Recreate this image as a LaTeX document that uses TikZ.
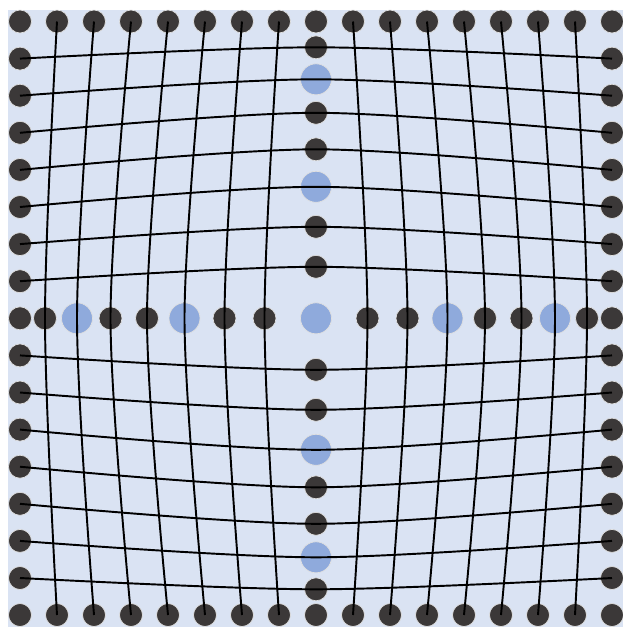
\documentclass[tikz,border=0pt]{standalone}
\usepackage{xcolor}
\usepackage{tikz}
\usetikzlibrary{positioning}

\definecolor{sheetcol}{HTML}{DAE3F3}
\definecolor{knotcol}{HTML}{3B3838}
\definecolor{weightcol}{HTML}{8FAADC}

\begin{document}
\begin{tikzpicture}[
  x=0.02cm, y=-0.02cm,
  knot/.style={circle, fill=knotcol, draw=black!12, line width=0.4pt, inner sep=0pt, minimum size=0.46cm},
  weight/.style={circle, fill=weightcol, draw=black!12, line width=0.4pt, inner sep=0pt, minimum size=0.62cm},
  thread/.style={line width=1.1pt, black},
]
\useasboundingbox (0,0) rectangle (623,627);

% Sheet
\fill[sheetcol] (8,10) rectangle (623,627);

% Border pins (top / bottom)
\foreach \j in {0,...,16} {
  \node[knot] (t\j) at ({20+37*\j},21.5) {};
  \node[knot] (b\j) at ({20+37*\j},615) {};
}
% Border pins (left / right)
\foreach \j in {1,...,15} {
  \node[knot] (l\j) at (20,{21.5+37.1*\j}) {};
  \node[knot] (r\j) at (612,{21.5+37.1*\j}) {};
}

% Centre weight
\node[weight] (mid) at (316,318.3) {};

% Pins and weights pulled along the centre cross
\foreach \j/\d/\s in {1/271/knot,2/239/weight,3/205.5/knot,4/169/knot,5/131.5/weight,6/91.5/knot,7/51.5/knot} {
  \pgfmathtruncatemacro\k{16-\j}
  \node[\s] (h\j) at ({316-\d},318.3) {};
  \node[\s] (h\k) at ({316+\d},318.3) {};
  \node[\s] (v\j) at (316,{318.3-\d}) {};
  \node[\s] (v\k) at (316,{318.3+\d}) {};
}

% Threads
\foreach \j in {1,...,7,9,10,...,15} {
  \draw[thread] plot[smooth] coordinates {(t\j) (h\j) (b\j)};
  \draw[thread] plot[smooth] coordinates {(l\j) (v\j) (r\j)};
}

\end{tikzpicture}
\end{document}
